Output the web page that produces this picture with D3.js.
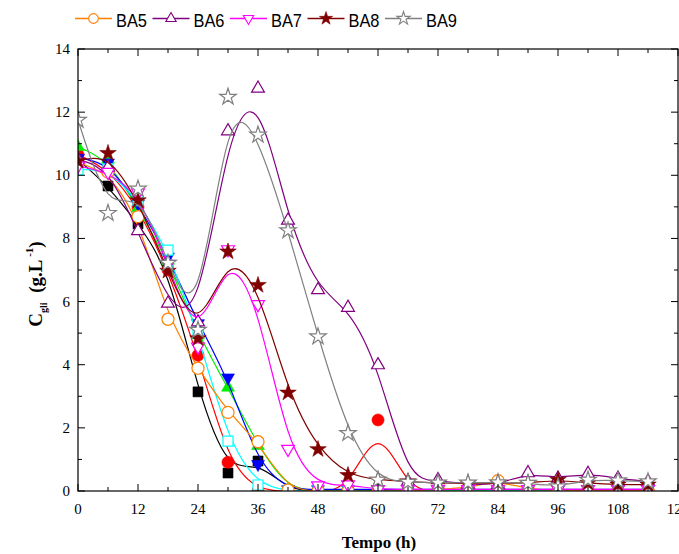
<!DOCTYPE html>
<html>
<head>
<meta charset="utf-8">
<script src="https://cdn.jsdelivr.net/npm/d3@7"></script>
<style>
  html, body { margin: 0; padding: 0; background: #fff; }
  svg { display: block; }
</style>
</head>
<body>
<svg id="chart" width="679" height="554"></svg>
<script>
// Sampling times (h)
const hours = [0, 6, 12, 18, 24, 30, 36, 42, 48, 54, 60, 66, 72, 78, 84, 90, 96, 102, 108, 114];

// Glycerol concentration per assay (g/L)
const ba0 = [10.5, 9.66, 8.46, 7.1, 3.14, 0.57, 0.95, 0.02, 0, 0, 0, 0, 0, 0, 0, 0, 0, 0, 0, 0];
const ba1 = [10.65, 10.2, 9.0, 7.0, 4.3, 0.91, 0, 0, 0, 0, 2.25, 0, 0, 0, 0, 0, 0, 0, 0, 0];
const ba2 = [10.9, 10.5, 8.96, 7.3, 4.94, 3.28, 1.43, 0.05, 0.02, 0.02, 0.02, 0.02, 0.02, 0.02, 0.02, 0.02, 0.02, 0.02, 0.02, 0.02];
const ba3 = [10.55, 10.4, 9.1, 7.42, 5.31, 3.59, 0.85, 0.05, 0.05, 0.05, 0.05, 0.05, 0.05, 0.05, 0.05, 0.05, 0.05, 0.05, 0.05, 0.05];
const ba4 = [10.17, 10.2, 9.2, 7.63, 5.0, 1.58, 0.19, 0, 0, 0, 0, 0, 0, 0, 0, 0, 0, 0, 0, 0];
const ba5 = [10.4, 10.1, 8.69, 5.44, 3.89, 2.49, 1.56, 0.03, 0, 0, 0, 0, 0.05, 0.1, 0.33, 0.05, 0.02, 0.02, 0.02, 0.02];
const ba6 = [10.5, 10.25, 8.24, 5.94, 5.35, 11.4, 12.75, 8.57, 6.37, 5.81, 3.99, 0.3, 0.35, 0.2, 0.2, 0.57, 0.4, 0.55, 0.4, 0.3];
const ba7 = [10.3, 10.1, 9.45, 7.19, 4.57, 7.65, 5.91, 1.33, 0.17, 0.2, 0.05, 0.05, 0.05, 0.05, 0.05, 0.05, 0.05, 0.05, 0.05, 0.05];
const ba8 = [10.45, 10.7, 9.2, 6.97, 4.83, 7.58, 6.52, 3.11, 1.32, 0.5, 0.35, 0.3, 0.25, 0.25, 0.25, 0.25, 0.35, 0.25, 0.2, 0.2];
const ba9 = [11.75, 8.8, 9.57, 7.22, 5.1, 12.48, 11.28, 8.25, 4.89, 1.83, 0.35, 0.28, 0.26, 0.26, 0.27, 0.25, 0.14, 0.35, 0.33, 0.3];

const seriesNames = ["BA0", "BA1", "BA2", "BA3", "BA4", "BA5", "BA6", "BA7", "BA8", "BA9"];
const seriesValues = [ba0, ba1, ba2, ba3, ba4, ba5, ba6, ba7, ba8, ba9];
const seriesColors = ["#000000", "#ff0000", "#00ee00", "#0000ff", "#00ffff",
                      "#ff8000", "#800080", "#ff00ff", "#800000", "#808080"];
const seriesShapes = ["square", "circle", "triUp", "triDown", "square",
                      "circle", "triUp", "triDown", "star", "star"];
const seriesFilled = [true, true, true, true, false, false, false, false, true, false];
const legendNames = ["BA5", "BA6", "BA7", "BA8", "BA9"];

const xTicks = [0, 12, 24, 36, 48, 60, 72, 84, 96, 108, 120];
const yTicks = [0, 2, 4, 6, 8, 10, 12, 14];

const svg = d3.select("#chart");
const L = 78, R = 678, T = 49, B = 491;

const x = d3.scaleLinear().domain([0, 120]).range([L, R]);
const y = d3.scaleLinear().domain([0, 14]).range([B, T]);

const series = seriesNames.map((name, i) => ({
  name,
  color: seriesColors[i],
  shape: seriesShapes[i],
  filled: seriesFilled[i],
  points: hours.map((h, j) => ({ h, v: seriesValues[i][j] }))
}));

// Marker path generators
const symbolSizes = { square: 100, circle: 115, triUp: 72, triDown: 72, star: 85 };
function markerPath(shape, scale = 1) {
  const type = shape === "square" ? d3.symbolSquare
    : shape === "circle" ? d3.symbolCircle
    : shape === "star" ? d3.symbolStar
    : d3.symbolTriangle;
  return d3.symbol().type(type).size(symbolSizes[shape] * scale * scale)();
}
function markerTransform(shape, px, py) {
  return shape === "triDown" ? `translate(${px},${py}) rotate(180)` : `translate(${px},${py})`;
}

svg.append("defs").append("clipPath").attr("id", "plotClip")
  .append("rect").attr("x", L).attr("y", T).attr("width", R - L).attr("height", B - T);

const plot = svg.append("g").attr("clip-path", "url(#plotClip)");

const line = d3.line()
  .x(d => x(d.h))
  .y(d => y(d.v))
  .curve(d3.curveBasis);

series.forEach(s => {
  const g = plot.append("g");
  g.append("path")
    .attr("d", line(s.points))
    .attr("fill", "none")
    .attr("stroke", s.color)
    .attr("stroke-width", 1.2);
  g.selectAll("path.mk")
    .data(s.points)
    .join("path")
    .attr("class", "mk")
    .attr("d", markerPath(s.shape))
    .attr("transform", d => markerTransform(s.shape, x(d.h), y(d.v)))
    .attr("fill", s.filled ? s.color : "#ffffff")
    .attr("stroke", s.color)
    .attr("stroke-width", s.filled ? 0.6 : 1.2);
});

// Frame
svg.append("rect")
  .attr("x", L).attr("y", T).attr("width", R - L).attr("height", B - T)
  .attr("fill", "none").attr("stroke", "#000").attr("stroke-width", 1.2);

// Inward ticks on all four sides
const ticks = svg.append("g").attr("stroke", "#000").attr("stroke-width", 1);
d3.range(0, 121, 6).forEach(h => {
  const len = h % 12 === 0 ? 7 : 4;
  ticks.append("line").attr("x1", x(h)).attr("x2", x(h)).attr("y1", B).attr("y2", B - len);
  ticks.append("line").attr("x1", x(h)).attr("x2", x(h)).attr("y1", T).attr("y2", T + len);
});
d3.range(0, 15, 1).forEach(v => {
  const len = v % 2 === 0 ? 7 : 4;
  ticks.append("line").attr("x1", L).attr("x2", L + len).attr("y1", y(v)).attr("y2", y(v));
  ticks.append("line").attr("x1", R).attr("x2", R - len).attr("y1", y(v)).attr("y2", y(v));
});

// Tick labels
const labelFont = "'Liberation Serif', 'Times New Roman', serif";
svg.append("g").selectAll("text").data(xTicks).join("text")
  .attr("x", d => x(d)).attr("y", 514)
  .attr("text-anchor", "middle")
  .attr("font-family", labelFont).attr("font-size", 15)
  .text(d => d);
svg.append("g").selectAll("text").data(yTicks).join("text")
  .attr("x", 70).attr("y", d => y(d) + 5)
  .attr("text-anchor", "end")
  .attr("font-family", labelFont).attr("font-size", 15)
  .text(d => d);

// Axis titles
svg.append("text")
  .attr("x", 379).attr("y", 548)
  .attr("text-anchor", "middle")
  .attr("font-family", labelFont).attr("font-size", 17).attr("font-weight", "bold")
  .text("Tempo (h)");

const yt = svg.append("text")
  .attr("transform", "translate(42,284) rotate(-90)")
  .attr("text-anchor", "middle")
  .attr("font-family", labelFont).attr("font-weight", "bold").attr("font-size", 19);
yt.append("tspan").text("C");
yt.append("tspan").attr("font-size", 10).attr("dy", 5).text("gli");
yt.append("tspan").attr("dy", -5).text("\u2002(g.L");
yt.append("tspan").attr("font-size", 11).attr("dy", -9).text(" -1");
yt.append("tspan").attr("dy", 9).text(")");

// Legend row
const legend = svg.append("g");
legendNames.forEach((name, k) => {
  const s = series.find(d => d.name === name);
  const x0 = 75 + k * 77.5;
  const g = legend.append("g");
  g.append("line").attr("x1", x0).attr("x2", x0 + 37).attr("y1", 18.5).attr("y2", 18.5)
    .attr("stroke", s.color).attr("stroke-width", 1.5);
  g.append("path")
    .attr("d", markerPath(s.shape, 0.8))
    .attr("transform", markerTransform(s.shape, x0 + 18.5, 18.5))
    .attr("fill", s.filled ? s.color : "#ffffff")
    .attr("stroke", s.color).attr("stroke-width", s.filled ? 0.6 : 1.1);
  g.append("text").attr("x", x0 + 41).attr("y", 26.5)
    .attr("font-family", "'Liberation Sans', Arial, sans-serif").attr("font-size", 19)
    .attr("textLength", 31).attr("lengthAdjust", "spacingAndGlyphs")
    .text(name);
});
</script>
</body>
</html>
